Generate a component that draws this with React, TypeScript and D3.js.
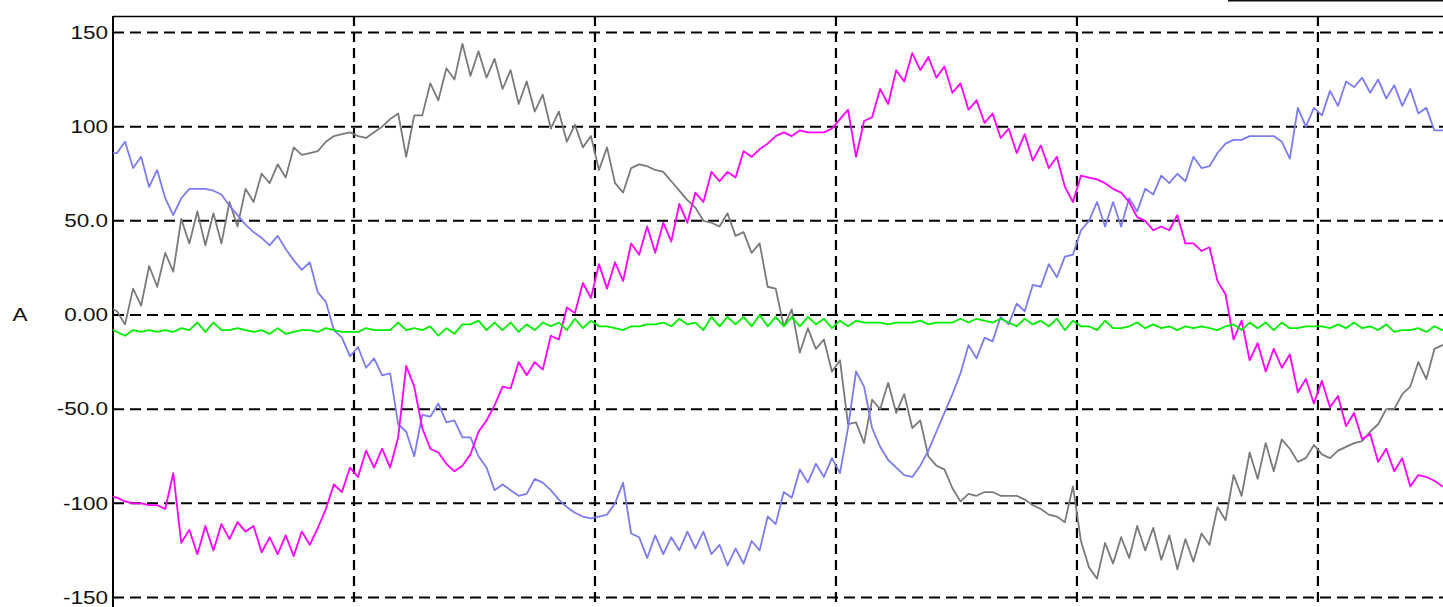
import React from "react";
import * as d3 from "d3";

const yTicks = [150, 100, 50, 0, -50, -100, -150];
const yTickLabels = ["150", "100", "50.0", "0.00", "-50.0", "-100", "-150"];
const xGridTimes = [30, 60, 90, 120, 150];
const yAxisTitle = "A";
const sampleStart = -0.5;

const phaseBlue = [
  86, 86, 92, 78, 84, 68, 77, 62, 53, 62,
  67, 67, 67, 66, 64, 58, 53, 48, 44, 41,
  37, 42, 35, 29, 24, 28, 12, 7, -8, -12,
  -22, -17, -28, -23, -32, -31, -58, -62, -75, -53,
  -54, -47, -57, -56, -65, -65, -75, -81, -93, -90,
  -93, -96, -95, -87, -89, -93, -98, -102, -105, -107,
  -108, -107, -106, -100, -89, -116, -118, -129, -117, -127,
  -118, -125, -115, -124, -115, -127, -122, -133, -124, -132,
  -120, -125, -107, -111, -94, -97, -82, -89, -79, -86,
  -76, -84, -60, -30, -38, -60, -70, -77, -81, -85,
  -86, -80, -72, -62, -52, -42, -31, -16, -23, -12,
  -14, -1, -5, 6, 2, 16, 15, 27, 20, 31,
  32, 45, 50, 60, 47, 60, 47, 62, 55, 67,
  64, 74, 70, 75, 71, 84, 78, 79, 86, 91,
  93, 93, 95, 95, 95, 95, 92, 83, 110, 100,
  110, 106, 119, 111, 124, 121, 126, 118, 125, 115,
  122, 111, 120, 107, 110, 98, 98, 98,
];

const phaseGray = [
  4, 2, -5, 14, 5, 26, 15, 33, 23, 51,
  38, 55, 37, 54, 38, 60, 47, 67, 60, 75,
  70, 80, 73, 89, 85, 86, 87, 92, 95, 96,
  97, 95, 94, 97, 100, 104, 107, 84, 106, 106,
  123, 114, 131, 125, 144, 127, 140, 126, 136, 120,
  130, 112, 124, 108, 117, 99, 108, 92, 101, 89,
  95, 77, 89, 70, 65, 78, 80, 79, 77, 76,
  71, 66, 61, 57, 50, 49, 47, 54, 42, 44,
  33, 38, 15, 14, -6, 3, -20, -7, -18, -13,
  -30, -24, -58, -57, -68, -45, -50, -36, -52, -42,
  -60, -56, -75, -80, -82, -92, -99, -95, -96, -94,
  -94, -96, -96, -96, -98, -101, -103, -106, -107, -110,
  -91, -120, -134, -140, -121, -132, -118, -129, -112, -125,
  -113, -130, -117, -135, -119, -131, -116, -122, -102, -109,
  -85, -96, -73, -87, -68, -83, -66, -71, -78, -76,
  -69, -74, -76, -72, -70, -68, -67, -62, -58, -50,
  -50, -42, -38, -25, -34, -18, -16, -16,
];

const phasePink = [
  -96, -97, -99, -100, -100, -101, -101, -103, -84, -121,
  -114, -127, -112, -125, -111, -119, -110, -115, -112, -126,
  -118, -127, -117, -128, -115, -122, -113, -103, -90, -94,
  -81, -86, -72, -81, -71, -81, -65, -27, -38, -60,
  -71, -73, -79, -83, -80, -74, -62, -56, -48, -38,
  -39, -25, -32, -25, -29, -11, -13, 4, 1, 17,
  9, 27, 14, 28, 18, 38, 32, 47, 33, 49,
  39, 59, 49, 65, 60, 76, 71, 76, 73, 87,
  84, 88, 91, 95, 97, 95, 98, 97, 97, 97,
  99, 104, 109, 84, 103, 105, 120, 112, 130, 124,
  139, 130, 137, 126, 132, 118, 123, 109, 114, 102,
  107, 94, 99, 86, 96, 82, 90, 78, 84, 68,
  60, 74, 73, 72, 70, 67, 65, 60, 52, 50,
  45, 47, 45, 53, 38, 38, 34, 36, 18, 11,
  -13, -3, -24, -15, -30, -18, -28, -21, -41, -34,
  -47, -35, -49, -43, -59, -52, -66, -63, -78, -71,
  -83, -76, -91, -85, -86, -88, -91, -92,
];

const neutralGreen = [
  -7, -9, -11, -8, -9, -8, -9, -8, -9, -7,
  -8, -4, -9, -4, -8, -8, -7, -8, -9, -8,
  -10, -7, -10, -9, -8, -8, -9, -7, -8, -9,
  -9, -9, -7, -8, -8, -8, -4, -8, -7, -8,
  -6, -11, -7, -10, -5, -5, -3, -8, -4, -8,
  -4, -9, -5, -8, -4, -6, -4, -8, -2, -7,
  -3, -6, -6, -7, -8, -6, -6, -5, -5, -4,
  -6, -2, -5, -4, -8, -1, -6, -1, -5, -1,
  -6, 0, -6, -1, -6, -1, -6, -1, -5, -2,
  -7, -3, -6, -3, -4, -4, -4, -5, -4, -4,
  -4, -3, -5, -4, -4, -4, -2, -4, -2, -3,
  -4, -2, -4, -6, -2, -5, -3, -6, -2, -8,
  -3, -6, -6, -8, -3, -7, -7, -6, -4, -7,
  -5, -7, -6, -8, -6, -7, -6, -7, -8, -6,
  -5, -8, -4, -7, -4, -8, -4, -7, -7, -6,
  -6, -6, -7, -5, -7, -4, -7, -6, -8, -5,
  -9, -8, -8, -7, -9, -6, -8, -7,
];

const seriesList = [
  { name: "gray", values: phaseGray, color: "#7a7a7a" },
  { name: "blue", values: phaseBlue, color: "#7c7cf0" },
  { name: "pink", values: phasePink, color: "#ff00ff" },
  { name: "green", values: neutralGreen, color: "#00f000" },
];

const W = 1443;
const H = 607;
const left = 113;
const top = 16;

export default function App() {
  const x = d3.scaleLinear().domain([0, 165.57]).range([left, W]);
  const y = d3.scaleLinear().domain([-150, 150]).range([597.5, 32.5]);
  const line = d3
    .line<number>()
    .x((_, i) => x(sampleStart + i))
    .y((d) => y(d));

  const font = "'Liberation Sans', Arial, sans-serif";

  return (
    <svg
      width={W}
      height={H}
      style={{ position: "absolute", left: 0, top: 0, background: "#fff" }}
    >
      <defs>
        <clipPath id="plotClip">
          <rect x={left} y={top} width={W - left} height={H - top} />
        </clipPath>
      </defs>
      <rect x={0} y={0} width={W} height={H} fill="#fff" />
      {/* partial legend box edge */}
      <line x1={1228} x2={W} y1={0.5} y2={0.5} stroke="#111" strokeWidth={2} />
      {/* horizontal grid */}
      {yTicks.map((t) => (
        <line
          key={"h" + t}
          x1={left}
          x2={W}
          y1={y(t)}
          y2={y(t)}
          stroke="#000"
          strokeWidth={2}
          strokeDasharray="11 6"
        />
      ))}
      {/* vertical grid */}
      {xGridTimes.map((t) => (
        <line
          key={"v" + t}
          x1={x(t)}
          x2={x(t)}
          y1={top}
          y2={H}
          stroke="#000"
          strokeWidth={2.2}
          strokeDasharray="10 6"
        />
      ))}
      {/* frame */}
      <line x1={left} x2={W} y1={top + 0.5} y2={top + 0.5} stroke="#000" strokeWidth={1.5} />
      <line x1={left} x2={left} y1={top} y2={H} stroke="#000" strokeWidth={2} />
      {/* series */}
      <g clipPath="url(#plotClip)">
        {seriesList.map((s) => (
          <path
            key={s.name}
            d={line(s.values) || ""}
            fill="none"
            stroke={s.color}
            strokeWidth={1.8}
            strokeLinejoin="round"
          />
        ))}
      </g>
      {/* tick labels */}
      {yTicks.map((t, i) => (
        <g key={"l" + t} transform={`translate(108, ${y(t)}) scale(1.25, 1)`}>
          <text
            x={0}
            y={0}
            textAnchor="end"
            dominantBaseline="central"
            fontFamily={font}
            fontSize={18}
            fill="#111"
          >
            {yTickLabels[i]}
          </text>
        </g>
      ))}
      <g transform={`translate(20, ${y(0)}) scale(1.25, 1)`}>
        <text
          x={0}
          y={0}
          textAnchor="middle"
          dominantBaseline="central"
          fontFamily={font}
          fontSize={18}
          fill="#111"
        >
          {yAxisTitle}
        </text>
      </g>
    </svg>
  );
}
